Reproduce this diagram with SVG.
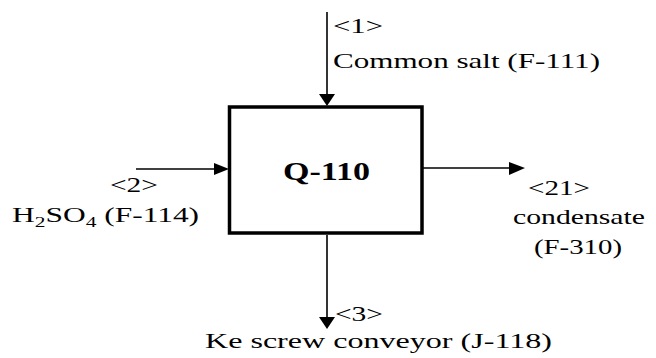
<svg xmlns="http://www.w3.org/2000/svg" width="656" height="358" viewBox="0 0 656 358">
<style>
.c{stroke:#000;stroke-width:1.6;fill:none}
.h{fill:#000;stroke:none}
text{font-family:'Liberation Serif',serif}
</style>
<rect width="656" height="358" fill="#fff"/>
<g id="connectors">
<line class="c" x1="327" y1="12" x2="327" y2="96"/>
<polygon class="h" points="319,94 335,94 327,106"/>
<line class="c" x1="136" y1="169" x2="216" y2="169"/>
<polygon class="h" points="214,163 214,175 229,169"/>
<line class="c" x1="422" y1="168" x2="510" y2="168"/>
<polygon class="h" points="509,162 509,175 525,168"/>
<line class="c" x1="327" y1="235" x2="327" y2="320"/>
<polygon class="h" points="319,317 335,317 327,329"/>
</g>
<g id="Q-110">
<rect x="229.5" y="107" width="192.5" height="126" fill="none" stroke="#000" stroke-width="3.5"/>
<text x="283" y="180" font-size="25" font-weight="bold" textLength="87" lengthAdjust="spacingAndGlyphs">Q-110</text>
</g>
<g font-size="22" fill="#000">
<g id="s1">
<text x="333" y="33" textLength="50" lengthAdjust="spacingAndGlyphs">&lt;1&gt;</text>
<text x="333" y="68" textLength="267" lengthAdjust="spacingAndGlyphs">Common salt (F-111)</text>
</g>
<g id="s2">
<text x="110" y="192" textLength="48" lengthAdjust="spacingAndGlyphs">&lt;2&gt;</text>
<text transform="translate(12,222) scale(1.43,1)">H<tspan font-size="15" dy="5">2</tspan><tspan dy="-5">SO</tspan><tspan font-size="15" dy="5">4</tspan><tspan dy="-5"> (F-114)</tspan></text>
</g>
<g id="s21">
<text x="528" y="195" textLength="62" lengthAdjust="spacingAndGlyphs">&lt;21&gt;</text>
<text x="513" y="224" textLength="132" lengthAdjust="spacingAndGlyphs">condensate</text>
<text x="534" y="254" textLength="88" lengthAdjust="spacingAndGlyphs">(F-310)</text>
</g>
<g id="s3">
<text x="335" y="321" textLength="48" lengthAdjust="spacingAndGlyphs">&lt;3&gt;</text>
<text x="205" y="348" textLength="347" lengthAdjust="spacingAndGlyphs">Ke screw conveyor (J-118)</text>
</g>
</g>
</svg>
